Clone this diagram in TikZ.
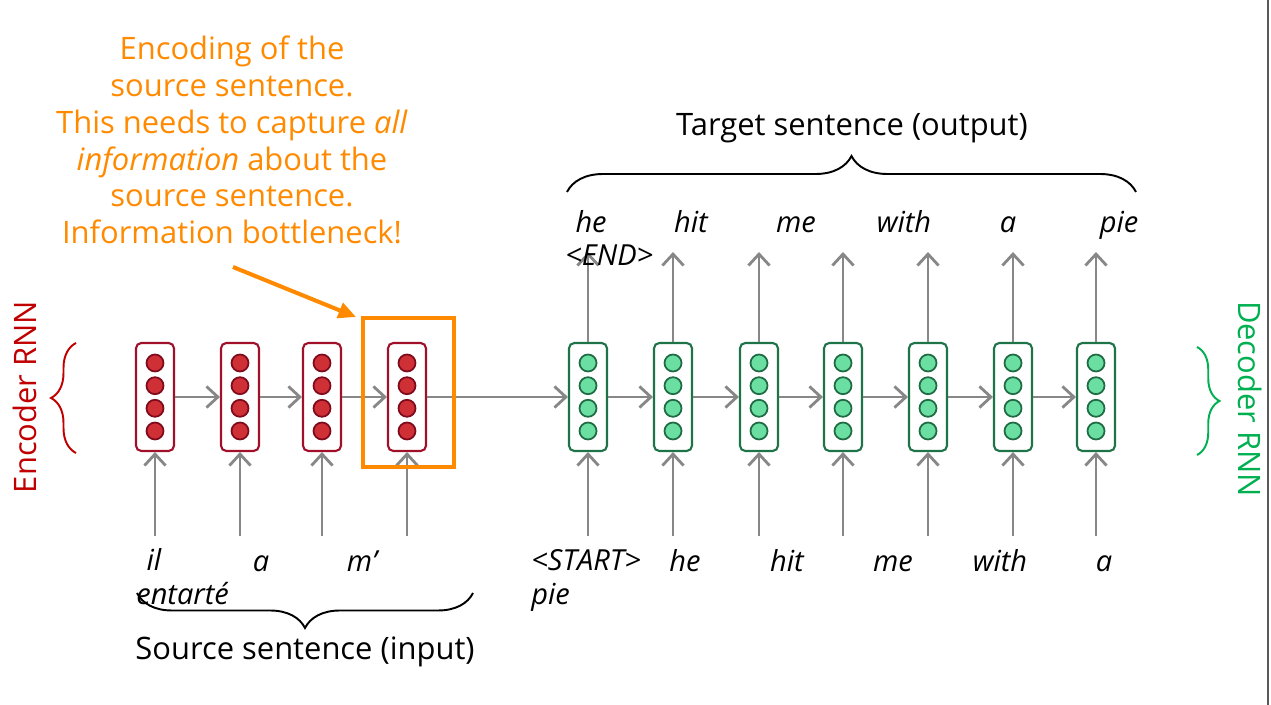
\documentclass[tikz,border=0pt]{standalone}
\usepackage{fontspec}
\setmainfont{Open Sans}
\usetikzlibrary{arrows.meta,decorations.pathreplacing}
\definecolor{encbox}{HTML}{A0102A}
\definecolor{encdotfill}{HTML}{CF3036}
\definecolor{encdotline}{HTML}{7E0A1C}
\definecolor{enctext}{HTML}{C00000}
\definecolor{decbox}{HTML}{1E7448}
\definecolor{decdotfill}{HTML}{6BDFA2}
\definecolor{decdotline}{HTML}{1E6B44}
\definecolor{dectext}{HTML}{00B050}
\definecolor{flowgray}{HTML}{878787}
\definecolor{noteorange}{HTML}{FF8A00}

\begin{document}
\begin{tikzpicture}[x=0.02cm,y=-0.02cm,
  enccell/.style={draw=encbox,line width=1.2pt,rounded corners=3pt,fill=white,minimum width=0.76cm,minimum height=2.16cm,inner sep=0pt},
  deccell/.style={enccell,draw=decbox},
  encdot/.style={circle,draw=encdotline,fill=encdotfill,line width=1pt,minimum size=0.34cm,inner sep=0pt},
  decdot/.style={encdot,draw=decdotline,fill=decdotfill},
  flow/.style={draw=flowgray,line width=1.6pt,-{Straight Barb[length=6.5pt,width=12pt]}},
  word/.style={font=\fontsize{16.5}{19}\selectfont\itshape,inner sep=0pt,anchor=base},
  label/.style={font=\fontsize{17.6}{21}\selectfont,inner sep=0pt},
  sbrace/.style={decorate,decoration={brace,amplitude=#1},line width=1.1pt}]
  \useasboundingbox (0,0) rectangle (1271,705);
  % encoder cells
  \path (155,397) node[enccell] (e1) {} (240,397) node[enccell] (e2) {}
  (322,397) node[enccell] (e3) {} (407,397) node[enccell] (e4) {};
  % decoder cells
  \path (588,397) node[deccell] (d1) {} (673,397) node[deccell] (d2) {}
  (759,397) node[deccell] (d3) {} (843,397) node[deccell] (d4) {}
  (928,397) node[deccell] (d5) {} (1013,397) node[deccell] (d6) {}
  (1096,397) node[deccell] (d7) {};
  \foreach \c in {e1,e2,e3,e4}
    \foreach \dy [count=\i] in {-34,-11.3,11.3,34}
      \path (\c) ++(0,\dy) node[encdot] (\c dot\i) {};
  \foreach \c in {d1,d2,d3,d4,d5,d6,d7}
    \foreach \dy [count=\i] in {-34,-11.3,11.3,34}
      \path (\c) ++(0,\dy) node[decdot] (\c dot\i) {};
  % recurrence
  \draw[flow] (e1) -- (e2); \draw[flow] (e2) -- (e3); \draw[flow] (e3) -- (e4);
  \draw[flow] (e4) -- (d1);
  \draw[flow] (d1) -- (d2); \draw[flow] (d2) -- (d3); \draw[flow] (d3) -- (d4);
  \draw[flow] (d4) -- (d5); \draw[flow] (d5) -- (d6); \draw[flow] (d6) -- (d7);
  % inputs
  \path (155,536) coordinate (ein1) (240,536) coordinate (ein2)
  (322,536) coordinate (ein3) (407,536) coordinate (ein4);
  \draw[flow] (ein1) -- (e1); \draw[flow] (ein2) -- (e2);
  \draw[flow] (ein3) -- (e3); \draw[flow] (ein4) -- (e4);
  \path (588,536) coordinate (din1) (673,536) coordinate (din2)
  (759,536) coordinate (din3) (843,536) coordinate (din4)
  (928,536) coordinate (din5) (1013,536) coordinate (din6)
  (1096,536) coordinate (din7);
  \draw[flow] (din1) -- (d1); \draw[flow] (din2) -- (d2); \draw[flow] (din3) -- (d3);
  \draw[flow] (din4) -- (d4); \draw[flow] (din5) -- (d5); \draw[flow] (din6) -- (d6);
  \draw[flow] (din7) -- (d7);
  % outputs
  \path (588,252) coordinate (dout1) (673,252) coordinate (dout2)
  (759,252) coordinate (dout3) (843,252) coordinate (dout4)
  (928,252) coordinate (dout5) (1013,252) coordinate (dout6)
  (1096,252) coordinate (dout7);
  \draw[flow] (d1) -- (dout1); \draw[flow] (d2) -- (dout2); \draw[flow] (d3) -- (dout3);
  \draw[flow] (d4) -- (dout4); \draw[flow] (d5) -- (dout5); \draw[flow] (d6) -- (dout6);
  \draw[flow] (d7) -- (dout7);
  % output words
  \node[word,align=left,anchor=base west] (o1) at (565,266) {\hspace*{0.35em}he\\<END>};
  \path (691,233) node[word] (o2) {hit} (796,233) node[word] (o3) {me}
  (904,233) node[word] (o4) {with} (1008,233) node[word] (o5) {a}
  (1119,233) node[word] (o6) {pie};
  % input words
  \node[word,align=left,anchor=base west] (s1) at (136,604) {\hspace*{0.35em}il\\entarté};
  \path (261,571) node[word] (s2) {a} (362,571) node[word] (s3) {m’};
  \node[word,align=left,anchor=base west] (t1) at (531,604) {<START>\\pie};
  \path (685,571) node[word] (t2) {he} (787,571) node[word] (t3) {hit}
  (893,571) node[word] (t4) {me} (1000,571) node[word] (t5) {with}
  (1104,571) node[word] (t6) {a};
  % braces
  \draw[sbrace=0.7cm] (473,593) -- (137,593);
  \node[label] (src) at (305,652) {Source sentence (input)};
  \draw[sbrace=0.72cm] (567,192) -- (1136,192);
  \node[label] (tgt) at (852,128) {Target sentence (output)};
  \draw[sbrace=0.5cm,enctext] (76,453) -- (76,343);
  \node[label,enctext,rotate=90] (enc) at (25,397) {Encoder RNN};
  \draw[sbrace=0.45cm,dectext] (1197,347) -- (1197,455);
  \node[label,dectext,rotate=-90] (dec) at (1250,399) {Decoder RNN};
  % bottleneck note
  \node[draw=noteorange,line width=2.2pt,minimum width=1.82cm,minimum height=2.98cm,inner sep=0pt] (hl) at (408.5,392.5) {};
  \node[label,noteorange,align=center] (note) at (232,140)
  {Encoding of the\\source sentence.\\This needs to capture \textit{all}\\\textit{information} about the\\source sentence.\\Information bottleneck!};
  \path (233,267) coordinate (notefoot) (356,317) coordinate (notetip);
  \draw[noteorange,line width=2.3pt,-{Triangle[length=10pt,width=9pt]}] (notefoot) -- (notetip);
  % slide edge
  \draw[line width=1.6pt,black!65] (1268,0) -- (1268,705);
\end{tikzpicture}
\end{document}
